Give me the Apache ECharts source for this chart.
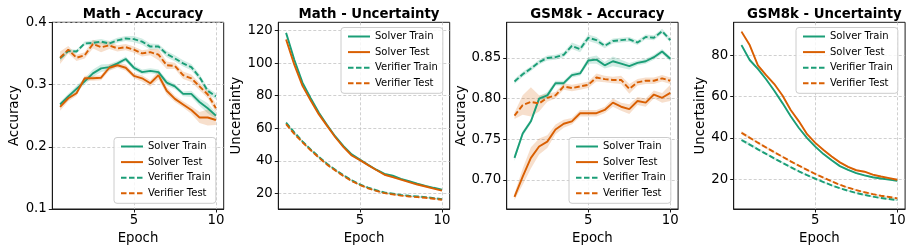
<!DOCTYPE html>
<html><head><meta charset="utf-8">
<script src="https://cdn.jsdelivr.net/npm/echarts@6/dist/echarts.min.js"></script>
<style>html,body{margin:0;padding:0;background:#fff}#c{width:913px;height:252px}</style>
</head><body><div id="c"></div>
<script>
// ---------------- data ----------------
const epochs = [0.5,1,1.5,2,2.5,3,3.5,4,4.5,5,5.5,6,6.5,7,7.5,8,8.5,9,9.5,10];
const seriesNames = ['Solver Train','Solver Test','Verifier Train','Verifier Test'];
const panelTitles = ['Math - Accuracy','Math - Uncertainty','GSM8k - Accuracy','GSM8k - Uncertainty'];
const panelYNames = ['Accuracy','Uncertainty','Accuracy','Uncertainty'];
const xTicks = [5,10];
const yTicks1 = [0.1,0.2,0.3,0.4];
const yTicks2 = [20,40,60,80,100,120];
const yTicks3 = [0.70,0.75,0.80,0.85];
const yTicks4 = [20,40,60,80];

// Math - Accuracy
const mathAccSolverTrain   = [0.268,0.281,0.293,0.305,0.318,0.326,0.328,0.334,0.341,0.327,0.320,0.322,0.320,0.303,0.297,0.285,0.285,0.272,0.262,0.250];
const mathAccSolverTest    = [0.264,0.278,0.286,0.310,0.310,0.311,0.327,0.331,0.327,0.314,0.310,0.302,0.315,0.290,0.277,0.268,0.259,0.247,0.247,0.243];
const mathAccVerifierTrain = [0.342,0.354,0.353,0.366,0.367,0.369,0.366,0.371,0.374,0.373,0.369,0.361,0.361,0.349,0.342,0.334,0.328,0.312,0.290,0.281];
const mathAccVerifierTest  = [0.343,0.356,0.343,0.347,0.365,0.360,0.363,0.358,0.360,0.356,0.350,0.352,0.348,0.331,0.330,0.315,0.310,0.297,0.284,0.262];
const mathAccSolverTrainStd   = [0.004,0.004,0.005,0.005,0.006,0.006,0.005,0.004,0.004,0.004,0.004,0.004,0.004,0.005,0.004,0.004,0.005,0.006,0.008,0.005];
const mathAccSolverTestStd    = [0.006,0.005,0.004,0.004,0.004,0.004,0.005,0.004,0.005,0.004,0.005,0.005,0.007,0.006,0.005,0.005,0.006,0.009,0.013,0.008];
const mathAccVerifierTrainStd = [0.004,0.003,0.003,0.003,0.004,0.004,0.004,0.004,0.004,0.005,0.005,0.005,0.004,0.005,0.005,0.005,0.005,0.005,0.005,0.005];
const mathAccVerifierTestStd  = [0.010,0.006,0.005,0.005,0.007,0.008,0.006,0.005,0.005,0.005,0.005,0.005,0.009,0.006,0.005,0.006,0.006,0.006,0.006,0.007];

// Math - Uncertainty
const mathUncSolverTrain   = [118.5,102,88,78.5,69.5,62,55,49,44,40.8,37.6,34.6,32,31,29,27.5,26,24.7,23.5,22.4];
const mathUncSolverTest    = [114.5,99,86,77,68.5,61.5,54.5,48.5,43.3,40.5,37.4,34.4,31.5,30,28.5,27,25.5,24.3,23,21.8];
const mathUncVerifierTrain = [63.5,57.5,52,47,42.5,38.2,34.6,31.2,28.2,25.6,23.6,22,20.6,19.9,19.1,18.6,18.2,17.8,17.2,16.5];
const mathUncVerifierTest  = [62.5,56.6,51.4,46.5,42,37.7,34.1,30.7,27.7,25.2,23.2,21.6,20.2,19.5,18.7,18.2,17.8,17.4,16.8,16.2];
const mathUncStd = [0.8,0.7,0.6,0.6,0.5,0.5,0.5,0.5,0.5,0.4,0.4,0.4,0.4,0.5,0.4,0.4,0.4,0.4,0.4,0.4];

// GSM8k - Accuracy
const gsmAccSolverTrain   = [0.727,0.757,0.772,0.800,0.804,0.819,0.819,0.829,0.831,0.847,0.848,0.841,0.846,0.843,0.840,0.844,0.846,0.851,0.858,0.849];
const gsmAccSolverTest    = [0.679,0.704,0.727,0.741,0.747,0.762,0.769,0.772,0.782,0.782,0.782,0.786,0.795,0.790,0.787,0.797,0.795,0.805,0.801,0.807];
const gsmAccVerifierTrain = [0.821,0.830,0.837,0.845,0.850,0.851,0.854,0.865,0.861,0.875,0.872,0.865,0.871,0.872,0.873,0.869,0.876,0.875,0.883,0.872];
const gsmAccVerifierTest  = [0.779,0.792,0.796,0.794,0.801,0.804,0.815,0.813,0.815,0.817,0.826,0.824,0.823,0.823,0.812,0.820,0.822,0.822,0.825,0.822];
const gsmAccSolverTrainStd   = [0.004,0.003,0.003,0.003,0.004,0.003,0.003,0.003,0.003,0.004,0.005,0.004,0.006,0.005,0.004,0.003,0.003,0.003,0.003,0.003];
const gsmAccSolverTestStd    = [0.004,0.010,0.013,0.010,0.008,0.006,0.005,0.004,0.004,0.004,0.004,0.004,0.005,0.005,0.006,0.005,0.005,0.005,0.006,0.010];
const gsmAccVerifierTrainStd = [0.003,0.003,0.003,0.003,0.003,0.003,0.003,0.004,0.004,0.004,0.004,0.003,0.003,0.003,0.003,0.003,0.003,0.003,0.003,0.003];
const gsmAccVerifierTestStd  = [0.004,0.012,0.018,0.010,0.005,0.004,0.004,0.004,0.004,0.004,0.005,0.004,0.004,0.005,0.006,0.004,0.004,0.004,0.004,0.004];

// GSM8k - Uncertainty
const gsmUncSolverTrain   = [84.8,77.6,73.3,68.3,62.8,56.8,50.5,44.8,39.9,35.8,32.2,29.2,26.4,24.6,23.0,21.9,21.0,20.4,19.9,19.3];
const gsmUncSolverTest    = [91.3,84.8,75.0,70.3,66.0,60.5,53.5,48.0,41.8,37.6,34.2,31.0,28.2,26.0,24.4,23.7,22.3,21.4,20.6,19.8];
const gsmUncVerifierTrain = [39.0,36.8,34.5,32.3,30.1,28.0,25.9,23.9,22.0,20.3,18.7,17.1,15.7,14.5,13.4,12.5,11.7,11.0,10.5,10.0];
const gsmUncVerifierTest  = [42.5,40.1,37.7,35.4,33.1,30.9,28.7,26.6,24.6,22.6,20.8,19.0,17.4,16.0,14.8,13.8,12.9,12.1,11.5,10.8];
const gsmUncStd = [0.8,0.7,0.6,0.6,0.6,0.5,0.5,0.5,0.5,0.5,0.4,0.4,0.4,0.4,0.4,0.4,0.4,0.4,0.4,0.4];

// ---------------- style ----------------
const GREEN = '#1b9e77', ORANGE = '#d95f02';
const BAND = ['rgba(27,158,119,0.2)','rgba(217,95,2,0.2)','rgba(27,158,119,0.2)','rgba(217,95,2,0.2)'];
const FONT = 'DejaVu Sans';
const gridLefts = [52.3, 278.3, 506.7, 733.7];
const GRID_W = 171.4, GRID_TOP = 22.3, GRID_H = 186.7;
const yRanges = [[0.1,0.4],[10.5,125],[0.664,0.894],[5.7,95.8]];
const ySplit = [3,5,5,5];
const yTickSets = [yTicks1,yTicks2,yTicks3,yTicks4];
const yFmt = [v=>v.toFixed(1), v=>String(Math.round(v)), v=>v.toFixed(2), v=>String(Math.round(v))];
const yNameGap = [31, 34, 38, 26];
const legendPos = [[114,137.5],[341,27.5],[569,137.5],[796,27.5]];

const panels = [
  [[mathAccSolverTrain,mathAccSolverTrainStd],[mathAccSolverTest,mathAccSolverTestStd],[mathAccVerifierTrain,mathAccVerifierTrainStd],[mathAccVerifierTest,mathAccVerifierTestStd]],
  [[mathUncSolverTrain,mathUncStd],[mathUncSolverTest,mathUncStd],[mathUncVerifierTrain,mathUncStd],[mathUncVerifierTest,mathUncStd]],
  [[gsmAccSolverTrain,gsmAccSolverTrainStd],[gsmAccSolverTest,gsmAccSolverTestStd],[gsmAccVerifierTrain,gsmAccVerifierTrainStd],[gsmAccVerifierTest,gsmAccVerifierTestStd]],
  [[gsmUncSolverTrain,gsmUncStd],[gsmUncSolverTest,gsmUncStd],[gsmUncVerifierTrain,gsmUncStd],[gsmUncVerifierTest,gsmUncStd]]
];
const colors = [GREEN, ORANGE, GREEN, ORANGE];
const dashed = [false,false,true,true];

function bandRenderer(mean, std, fill) {
  return function (params, api) {
    if (params.dataIndex !== 0) return null;
    const pts = [];
    for (let j = 0; j < epochs.length; j++) pts.push(api.coord([epochs[j], mean[j] + std[j]]));
    for (let j = epochs.length - 1; j >= 0; j--) pts.push(api.coord([epochs[j], mean[j] - std[j]]));
    return {type: 'polygon', shape: {points: pts}, style: {fill: fill, stroke: null}, silent: true};
  };
}

const grid = [], xAxis = [], yAxis = [], title = [], legend = [], series = [];
panels.forEach((p, gi) => {
  grid.push({left: gridLefts[gi], top: GRID_TOP, width: GRID_W, height: GRID_H,
    show: true, borderColor: '#1a1a1a', borderWidth: 1, backgroundColor: 'transparent'});
  title.push({text: panelTitles[gi], left: gridLefts[gi] + GRID_W/2, top: 3, textAlign: 'center',
    textStyle: {fontFamily: FONT, fontWeight: 'bold', fontSize: 13.3, color: '#000'}});
  xAxis.push({type: 'value', gridIndex: gi, min: 0.025, max: 10.475, splitNumber: 2,
    name: 'Epoch', nameLocation: 'middle', nameGap: 21,
    nameTextStyle: {fontFamily: FONT, fontSize: 13.3, color: '#000'},
    axisLine: {show: true, lineStyle: {color: '#1a1a1a', width: 1}},
    axisTick: {show: true, length: 3.5, customValues: xTicks, lineStyle: {color: '#1a1a1a'}},
    axisLabel: {show: true, margin: 5, customValues: xTicks, fontFamily: FONT, fontSize: 13.3, color: '#000',
      formatter: v => String(v)},
    splitLine: {show: true, lineStyle: {color: '#c4c4c4', type: [3,2], width: 0.8}}
  });
  yAxis.push({type: 'value', gridIndex: gi, min: yRanges[gi][0], max: yRanges[gi][1], splitNumber: ySplit[gi],
    name: panelYNames[gi], nameLocation: 'middle', nameGap: yNameGap[gi], nameRotate: 90,
    nameTextStyle: {fontFamily: FONT, fontSize: 13.3, color: '#000'},
    axisLine: {show: true, lineStyle: {color: '#1a1a1a', width: 1}},
    axisTick: {show: true, length: 3.5, customValues: yTickSets[gi], lineStyle: {color: '#1a1a1a'}},
    axisLabel: {show: true, margin: 5.5, customValues: yTickSets[gi], fontFamily: FONT, fontSize: 13.3, color: '#000',
      formatter: yFmt[gi]},
    splitLine: {show: true, lineStyle: {color: '#c4c4c4', type: [3,2], width: 0.8}}
  });
  legend.push({data: seriesNames, orient: 'vertical', left: legendPos[gi][0], top: legendPos[gi][1],
    itemWidth: 22, itemHeight: 10, itemGap: 3.6, padding: [3, 5, 4, 6],
    itemStyle: {opacity: 0},
    backgroundColor: 'rgba(255,255,255,0.8)', borderColor: '#cccccc', borderWidth: 1, borderRadius: 3,
    textStyle: {fontFamily: FONT, fontSize: 10, color: '#000', lineHeight: 12},
    selectedMode: false});
  p.forEach((pair, si) => {
    const mean = pair[0], std = pair[1];
    series.push({type: 'custom', xAxisIndex: gi, yAxisIndex: gi, silent: true, z: 1,
      renderItem: bandRenderer(mean, std, BAND[si]),
      encode: {x: 0, y: [1, 2]},
      data: epochs.map((x, j) => [x, mean[j] - std[j], mean[j] + std[j]])});
  });
  p.forEach((pair, si) => {
    const mean = pair[0];
    series.push({type: 'line', name: seriesNames[si], xAxisIndex: gi, yAxisIndex: gi,
      symbol: 'none', z: 3,
      lineStyle: {color: colors[si], width: 1.9, type: dashed[si] ? [5.5, 2.5] : 'solid'},
      itemStyle: {color: colors[si]},
      data: epochs.map((x, j) => [x, mean[j]])});
  });
});

const chart = echarts.init(document.getElementById('c'), null, {renderer: 'canvas'});
chart.setOption({animation: false, backgroundColor: '#fff', grid, xAxis, yAxis, title, legend, series});
</script>
</body></html>
